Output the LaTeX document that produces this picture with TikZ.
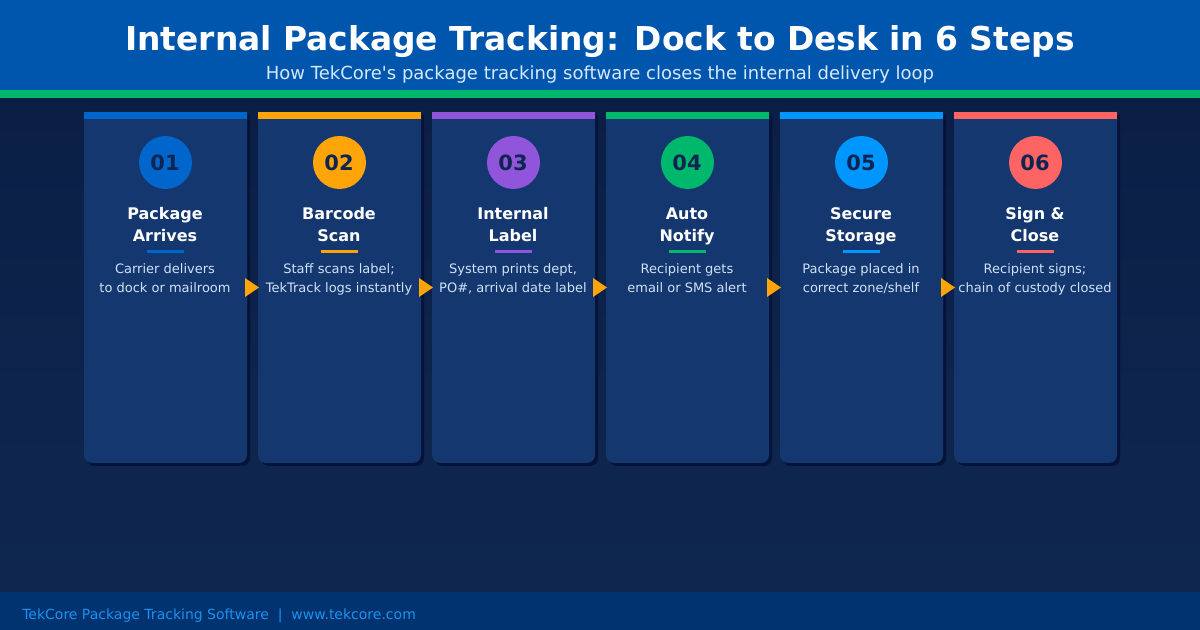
\documentclass[tikz,border=0pt]{standalone}
\usepackage{fontspec}
\setmainfont{DejaVu Sans}
\usetikzlibrary{calc}
\definecolor{bgA}{HTML}{0A1D44}
\definecolor{bgB}{HTML}{0F2850}
\definecolor{headbg}{HTML}{0055AD}
\definecolor{green}{HTML}{00B86B}
\definecolor{cardbg}{HTML}{14376F}
\definecolor{shadowc}{HTML}{061338}
\definecolor{footbg}{HTML}{00336F}
\definecolor{footfg}{HTML}{1E90EE}
\definecolor{subfg}{HTML}{D5E9FB}
\definecolor{descfg}{HTML}{D0E2F5}
\definecolor{numfg}{HTML}{0D2550}
\definecolor{cA}{HTML}{0066CC}
\definecolor{cB}{HTML}{FFA50A}
\definecolor{cC}{HTML}{9155DC}
\definecolor{cD}{HTML}{00B86B}
\definecolor{cE}{HTML}{0096FF}
\definecolor{cF}{HTML}{FF6464}
\tikzset{
  x=0.75pt,y=-0.75pt,
  numtxt/.style={font=\fontsize{15.75}{15.75}\selectfont\bfseries,text=numfg,inner sep=0pt,anchor=base},
  titletxt/.style={font=\fontsize{12}{12}\selectfont\bfseries,text=white,inner sep=0pt,anchor=base},
  desctxt/.style={font=\fontsize{9.75}{9.75}\selectfont,text=descfg,inner sep=0pt,anchor=base},
  circ/.style={circle,minimum size=39.75pt,inner sep=0pt},
  arrowtri/.style={fill=cB,draw=none},
}
\newcommand{\stepcard}[8]{%
  % #1 left x, #2 colour, #3 number, #4,#5 title lines, #6,#7 desc lines, #8 id
  \fill[shadowc] (#1+3,115) -- (#1+166,115) -- (#1+166,458) arc[start angle=0,end angle=90,radius=8] -- (#1+11,466) arc[start angle=90,end angle=180,radius=8] -- cycle;
  \fill[cardbg] (#1,112) -- (#1+163,112) -- (#1+163,455) arc[start angle=0,end angle=90,radius=8] -- (#1+8,463) arc[start angle=90,end angle=180,radius=8] -- cycle;
  \fill[#2] (#1,112) rectangle (#1+163,119);
  \node[circ,fill=#2] (c#8) at (#1+81.5,162.5) {};
  \node[numtxt] (n#8) at (#1+81,171) {#3};
  \node[titletxt] (ta#8) at (#1+81,220) {#4};
  \node[titletxt] (tb#8) at (#1+81,242) {#5};
  \fill[#2] (#1+63,250) rectangle (#1+100,253);
  \node[desctxt] (da#8) at (#1+81,274) {#6};
  \node[desctxt] (db#8) at (#1+81,293) {#7};
}
\begin{document}
\begin{tikzpicture}
\useasboundingbox (0,0) rectangle (1200,630);
\shade[top color=bgA,bottom color=bgB] (0,0) rectangle (1200,630);
\fill[headbg] (0,0) rectangle (1200,90);
\fill[green] (0,90) rectangle (1200,98);
\node[font=\fontsize{24.65}{24.65}\selectfont\bfseries,text=white,inner sep=0pt,anchor=base] (title) at (600,50.5) {Internal Package Tracking: Dock to Desk in 6 Steps};
\node[font=\fontsize{13.5}{13.5}\selectfont,text=subfg,inner sep=0pt,anchor=base] (sub) at (600,79.5) {How TekCore\textquotesingle s package tracking software closes the internal delivery loop};
\stepcard{84}{cA}{01}{Package}{Arrives}{Carrier delivers}{to dock or mailroom}{a}
\stepcard{258}{cB}{02}{Barcode}{Scan}{Staff scans label;}{TekTrack logs instantly}{b}
\stepcard{432}{cC}{03}{Internal}{Label}{System prints dept,}{PO\#, arrival date label}{c}
\stepcard{606}{cD}{04}{Auto}{Notify}{Recipient gets}{email or SMS alert}{d}
\stepcard{780}{cE}{05}{Secure}{Storage}{Package placed in}{correct zone/shelf}{e}
\stepcard{954}{cF}{06}{Sign \&}{Close}{Recipient signs;}{chain of custody closed}{f}
\foreach \x in {245,419,593,767,941}{
  \fill[arrowtri] (\x,278) -- (\x+14,287.5) -- (\x,297) -- cycle;
}
\fill[footbg] (0,592) rectangle (1200,630);
\node[font=\fontsize{10.5}{10.5}\selectfont,text=footfg,inner sep=0pt,anchor=base west] (foot) at (22,619) {TekCore Package Tracking Software\ \ |\ \ www.tekcore.com};
\end{tikzpicture}
\end{document}
